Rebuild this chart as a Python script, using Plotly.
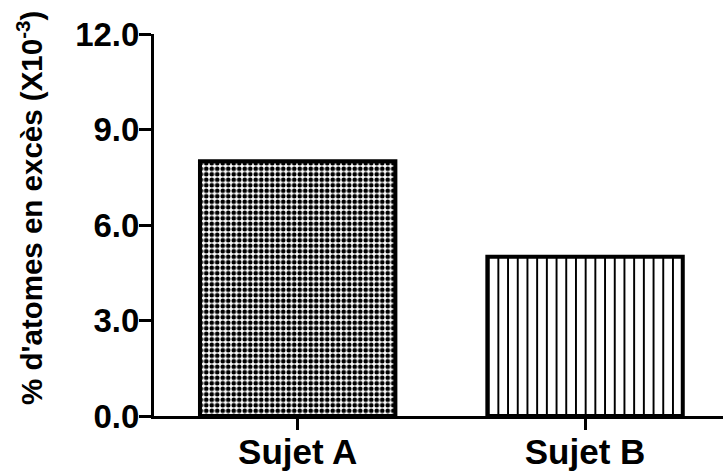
import plotly.graph_objects as go

# Data
subjects = ["Sujet A", "Sujet B"]
excess_pct = [8.0, 5.0]          # % d'atomes en excès, in units of 10^-3
y_ticks = [0.0, 3.0, 6.0, 9.0, 12.0]
y_title = "% d'atomes en excès (X10<sup>-3</sup>)"

FONT = "Liberation Sans, Arial, Helvetica, sans-serif"

patterns = [
    dict(shape=".", fgcolor="black", bgcolor="white", size=5.5, solidity=0.55, fillmode="replace"),
    dict(shape="|", fgcolor="black", bgcolor="white", size=9.7, solidity=0.2, fillmode="replace"),
]

fig = go.Figure()
for name, val, pat in zip(subjects, excess_pct, patterns):
    fig.add_trace(go.Bar(
        x=[name], y=[val], width=0.68,
        marker=dict(color="white", pattern=pat, line=dict(color="black", width=4)),
        showlegend=False,
    ))

fig.update_layout(
    width=723, height=474,
    margin=dict(l=154, r=0, t=34, b=58),
    paper_bgcolor="white", plot_bgcolor="white",
    font=dict(family=FONT, color="black", weight="bold"),
    bargap=0.32,
)

fig.update_xaxes(
    range=[-0.5, 1.48], automargin=False,
    showline=True, linecolor="black", linewidth=3,
    ticks="outside", ticklen=11, tickwidth=3, tickcolor="black",
    tickfont=dict(family=FONT, size=35, weight="bold"),
    ticklabelstandoff=-8,
    showgrid=False, zeroline=False,
)

fig.update_yaxes(
    range=[0, 12], automargin=False,
    tickvals=y_ticks, ticktext=[f"{v:.1f}" for v in y_ticks],
    showline=True, linecolor="black", linewidth=3,
    ticks="outside", ticklen=12, tickwidth=3, tickcolor="black",
    tickfont=dict(family=FONT, size=33, weight="bold"),
    ticklabelstandoff=-7,
    showgrid=False, zeroline=False,
)

# Vertical axis title, placed slightly above the plot's vertical centre
fig.add_annotation(
    text=y_title, textangle=-90, showarrow=False,
    xref="paper", yref="paper", x=-0.2197, y=0.5445,
    xanchor="center", yanchor="middle",
    font=dict(family=FONT, size=29.5, weight="bold", color="black"),
)

fig.write_html("out.html")
